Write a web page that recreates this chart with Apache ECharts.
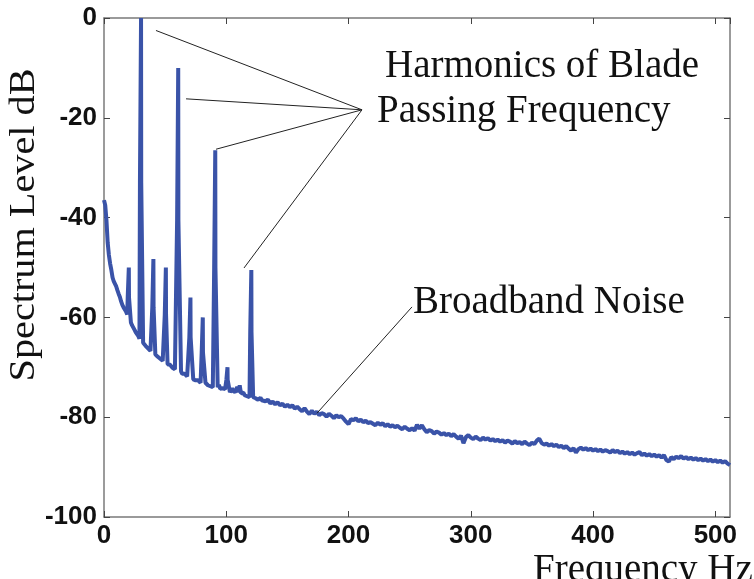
<!DOCTYPE html>
<html>
<head>
<meta charset="utf-8">
<script src="https://cdn.jsdelivr.net/npm/echarts@6/dist/echarts.min.js"></script>
<style>
  html, body { margin: 0; padding: 0; background: #fff; }
  #chart { width: 754px; height: 579px; }
</style>
</head>
<body>
<div id="chart"></div>
<script>
// axis ticks
const freqTicks = [0, 100, 200, 300, 400, 500];
const freqMax = 512;
const levelTicks = [-100, -80, -60, -40, -20, 0];

// noise floor, 0..130 Hz every 1 Hz
const lowFloorDb = [
  -36.5, -37.5, -40.5, -45.0, -47.5, -49.2, -50.5, -52.0, -52.8, -53.2,
  -53.8, -54.6, -55.3, -55.9, -56.8, -57.5, -58.0, -58.3, -58.8, -59.4,
  -60.0, -60.5, -61.0, -61.6, -62.0, -62.5, -63.0, -63.4, -63.7, -64.3,
  -64.5, -64.8, -65.1, -65.3, -65.7, -65.9, -66.2, -66.3, -66.7, -66.9,
  -67.0, -67.3, -67.4, -67.8, -67.9, -67.8, -68.3, -68.5, -68.7, -68.9,
  -68.8, -69.2, -69.4, -69.6, -69.5, -69.9, -70.1, -70.0, -70.4, -70.6,
  -70.5, -70.9, -71.0, -70.8, -71.3, -71.4, -71.3, -71.7, -71.8, -71.6,
  -72.0, -72.2, -72.0, -72.4, -72.3, -72.6, -72.8, -72.6, -72.9, -73.1,
  -72.9, -73.2, -73.4, -73.1, -73.5, -73.6, -73.4, -73.8, -73.6, -74.0,
  -74.1, -73.9, -74.2, -74.0, -73.5, -74.3, -74.5, -74.2, -74.6, -74.4,
  -74.5, -74.8, -74.4, -75.0, -74.7, -74.2, -74.9, -75.1, -74.8, -73.9,
  -75.0, -73.6, -75.2, -75.5, -75.1, -75.6, -75.4, -75.8, -75.7, -76.0,
  -75.9, -76.2, -76.0, -76.4, -76.2, -75.9, -76.5, -76.3, -76.1, -76.6,
  -76.4
];

// noise floor, 132..512 Hz every 2 Hz
const highStartHz = 132;
const highStepHz = 2;
const highFloorDb = [
  -76.8, -76.5, -77.2, -76.9, -77.4, -77.0, -77.6, -77.3, -77.9, -77.5,
  -78.0, -77.6, -78.3, -77.9, -78.4, -78.8, -78.2, -78.9, -79.4, -78.7,
  -79.3, -78.9, -79.6, -79.2, -79.4, -79.9, -79.3, -79.7, -80.2, -79.6,
  -80.0, -79.8, -80.3, -80.9, -81.4, -80.4, -80.6, -80.2, -80.8, -80.5,
  -81.0, -80.7, -81.2, -81.0, -81.3, -81.6, -81.1, -81.5, -81.2, -81.8,
  -81.4, -81.9, -81.6, -82.0, -81.7, -82.1, -82.4, -81.9, -82.3, -82.6,
  -82.2, -82.7, -81.5, -82.3, -81.6, -82.4, -83.0, -82.6, -82.8, -83.3,
  -82.9, -83.1, -83.5, -83.2, -83.6, -83.3, -83.8, -83.4, -83.9, -84.3,
  -83.7, -85.2, -84.0, -83.6, -84.1, -84.4, -83.9, -84.3, -84.6, -84.1,
  -84.5, -84.2, -84.7, -84.4, -84.8, -84.5, -84.9, -84.6, -85.1, -84.7,
  -84.9, -85.3, -84.8, -85.2, -85.0, -85.4, -84.9, -85.3, -85.6, -85.1,
  -85.4, -84.7, -84.3, -85.2, -85.5, -85.3, -85.7, -85.4, -85.8, -85.5,
  -86.0, -85.7, -86.2, -85.8, -86.3, -86.7, -86.2, -87.1, -86.4, -86.1,
  -86.5, -86.2, -86.6, -86.3, -86.7, -86.4, -86.8, -86.5, -86.9, -86.6,
  -86.8, -87.1, -86.6, -87.0, -86.7, -87.2, -86.9, -87.3, -87.0, -87.4,
  -87.1, -87.5, -87.2, -87.0, -87.6, -87.3, -87.7, -87.4, -87.8, -87.5,
  -87.9, -87.6, -88.1, -87.6, -88.6, -88.9, -88.0, -88.4, -87.9, -88.2,
  -87.8, -88.3, -88.0, -88.4, -88.1, -88.5, -88.2, -88.6, -88.3, -88.7,
  -88.4, -88.8, -88.5, -88.9, -88.6, -89.0, -88.7, -89.1, -88.8, -89.3,
  -89.6
];

// tonal peaks (shaft-rate and blade-passing harmonics)
const peakHz     = [20.3, 30.3, 40.4, 50.6, 60.7, 70.7, 80.8, 91.0, 101.0, 120.5];
const peakDb     = [-50.0, 0.0, -48.3, -50.0, -10.0, -56.0, -60.0, -26.5, -70.0, -50.5];
const shoulderDb = [-56.0, -33.0, -58.0, -59.5, -40.5, -64.0, -67.0, -50.0, -72.5, -63.0];

// annotation leader lines, in data coords [Hz, dB]
const bpfHub = [211.0, -18.4];
const bpfTargets = [[42.5, -2.5], [67.1, -16.2], [91.6, -26.3], [114.5, -50.1]];
const noiseLeader = [[251.9, -57.9], [174.2, -79.2]];

// build the spectrum line
let points = [];
lowFloorDb.forEach((v, i) => points.push([i, v]));
highFloorDb.forEach((v, i) => points.push([highStartHz + i * highStepHz, v]));
points = points.filter(p => peakHz.every(f => Math.abs(p[0] - f) >= 1.3));
peakHz.forEach((f, i) => {
  // wide shoulder at the base, narrow line up to the peak
  points.push([f - 0.9, shoulderDb[i]]);
  points.push([f - 0.15, shoulderDb[i]]);
  points.push([f, peakDb[i]]);
  points.push([f + 0.15, shoulderDb[i]]);
  points.push([f + 0.9, shoulderDb[i]]);
});
points.sort((a, b) => a[0] - b[0]);

const axisGray = '#7a7a7a';
const tickFont = { fontFamily: 'Liberation Sans', fontWeight: 'bold', fontSize: 26, color: '#111' };
const serif = 'Liberation Serif';

function makeX(pos, labels) {
  return {
    type: 'value', position: pos,
    min: freqTicks[0], max: freqMax, interval: freqTicks[1] - freqTicks[0],
    axisLine: { show: true, onZero: false, lineStyle: { color: axisGray, width: 1.5 } },
    axisTick: { show: true, inside: true, length: 6, lineStyle: { color: '#444', width: 1 } },
    axisLabel: Object.assign({ show: labels, margin: 6, showMaxLabel: false }, tickFont),
    splitLine: { show: false }
  };
}
function makeY(pos, labels) {
  return {
    type: 'value', position: pos,
    min: levelTicks[0], max: levelTicks[levelTicks.length - 1], interval: levelTicks[1] - levelTicks[0],
    axisLine: { show: true, onZero: false, lineStyle: { color: axisGray, width: 1.5 } },
    axisTick: { show: true, inside: true, length: 6, lineStyle: { color: '#444', width: 1 } },
    axisLabel: Object.assign({ show: labels, margin: 7 }, tickFont),
    splitLine: { show: false }
  };
}

const chart = echarts.init(document.getElementById('chart'));

chart.setOption({
  animation: false,
  grid: { left: 104, right: 24, top: 18, bottom: 62, containLabel: false },
  xAxis: [makeX('bottom', true), makeX('top', false)],
  yAxis: [makeY('left', true), makeY('right', false)],
  series: [{
    type: 'line',
    xAxisIndex: 0, yAxisIndex: 0,
    data: points,
    showSymbol: false,
    silent: true,
    lineStyle: { color: '#3a53a8', width: 4 },
    markLine: {
      silent: true,
      symbol: ['none', 'none'],
      label: { show: false },
      lineStyle: { color: '#222', width: 1, type: 'solid' },
      data: bpfTargets.map(t => [{ coord: bpfHub }, { coord: t }])
        .concat([[{ coord: noiseLeader[0] }, { coord: noiseLeader[1] }]])
    }
  }],
  graphic: [
    { type: 'text', x: 385, y: 67, silent: true,
      style: { text: 'Harmonics of Blade', font: '39px "' + serif + '"', fill: '#111', textAlign: 'left', textVerticalAlign: 'middle' } },
    { type: 'text', x: 377, y: 112, silent: true,
      style: { text: 'Passing Frequency', font: '39px "' + serif + '"', fill: '#111', textAlign: 'left', textVerticalAlign: 'middle' } },
    { type: 'text', x: 413, y: 303, silent: true,
      style: { text: 'Broadband Noise', font: '39px "' + serif + '"', fill: '#111', textAlign: 'left', textVerticalAlign: 'middle' } },
    { type: 'text', x: 533, y: 571, silent: true,
      style: { text: 'Frequency Hz', font: '39px "' + serif + '"', fill: '#111', textAlign: 'left', textVerticalAlign: 'middle' } },
    { type: 'text', x: 25, y: 225, rotation: Math.PI / 2, scaleX: 1.15, silent: true,
      style: { text: 'Spectrum Level dB', font: '35px "' + serif + '"', fill: '#111', textAlign: 'center', textVerticalAlign: 'middle' } }
  ]
});
</script>
</body>
</html>
